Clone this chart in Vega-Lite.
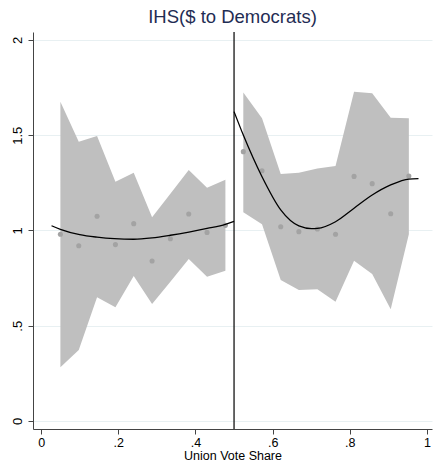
{
  "$schema": "https://vega.github.io/schema/vega-lite/v6.json",
  "width": 399,
  "height": 397,
  "autosize": "none",
  "padding": {"left": 33, "top": 32, "right": 4, "bottom": 34},
  "background": "white",
  "config": {"view": {"stroke": null}, "font": "Liberation Sans"},
  "title": {"text": "IHS($ to Democrats)", "color": "#1f2d54", "fontSize": 18.5, "fontWeight": "normal", "anchor": "middle", "offset": 5, "font": "Liberation Sans"},
  "datasets": {
    "band": [
      {"x": 0.05, "lo": 0.282, "hi": 1.676, "side": "L"},
      {"x": 0.0976, "lo": 0.373, "hi": 1.466, "side": "L"},
      {"x": 0.145, "lo": 0.649, "hi": 1.496, "side": "L"},
      {"x": 0.1926, "lo": 0.597, "hi": 1.256, "side": "L"},
      {"x": 0.24, "lo": 0.761, "hi": 1.303, "side": "L"},
      {"x": 0.2876, "lo": 0.614, "hi": 1.069, "side": "L"},
      {"x": 0.335, "lo": 0.731, "hi": 1.193, "side": "L"},
      {"x": 0.3826, "lo": 0.85, "hi": 1.318, "side": "L"},
      {"x": 0.43, "lo": 0.757, "hi": 1.225, "side": "L"},
      {"x": 0.4776, "lo": 0.789, "hi": 1.267, "side": "L"},
      {"x": 0.524, "lo": 1.096, "hi": 1.725, "side": "R"},
      {"x": 0.5725, "lo": 1.033, "hi": 1.589, "side": "R"},
      {"x": 0.621, "lo": 0.74, "hi": 1.297, "side": "R"},
      {"x": 0.668, "lo": 0.688, "hi": 1.303, "side": "R"},
      {"x": 0.716, "lo": 0.691, "hi": 1.326, "side": "R"},
      {"x": 0.763, "lo": 0.626, "hi": 1.339, "side": "R"},
      {"x": 0.811, "lo": 0.841, "hi": 1.729, "side": "R"},
      {"x": 0.858, "lo": 0.772, "hi": 1.72, "side": "R"},
      {"x": 0.906, "lo": 0.586, "hi": 1.592, "side": "R"},
      {"x": 0.953, "lo": 0.98, "hi": 1.589, "side": "R"}
    ],
    "pts": [
      {"x": 0.05, "y": 0.98},
      {"x": 0.0976, "y": 0.92},
      {"x": 0.145, "y": 1.075},
      {"x": 0.1926, "y": 0.926},
      {"x": 0.24, "y": 1.036},
      {"x": 0.2876, "y": 0.84},
      {"x": 0.335, "y": 0.957},
      {"x": 0.3826, "y": 1.087},
      {"x": 0.43, "y": 0.99},
      {"x": 0.4776, "y": 1.027},
      {"x": 0.524, "y": 1.414},
      {"x": 0.5725, "y": 1.314},
      {"x": 0.621, "y": 1.02},
      {"x": 0.668, "y": 0.994},
      {"x": 0.716, "y": 1.008},
      {"x": 0.763, "y": 0.98},
      {"x": 0.811, "y": 1.284},
      {"x": 0.858, "y": 1.246},
      {"x": 0.906, "y": 1.088},
      {"x": 0.953, "y": 1.286}
    ],
    "fit": [
      {"x": 0.027, "y": 1.025, "side": "L"},
      {"x": 0.05, "y": 1.006, "side": "L"},
      {"x": 0.1, "y": 0.978, "side": "L"},
      {"x": 0.145, "y": 0.965, "side": "L"},
      {"x": 0.19, "y": 0.957, "side": "L"},
      {"x": 0.24, "y": 0.954, "side": "L"},
      {"x": 0.2876, "y": 0.961, "side": "L"},
      {"x": 0.335, "y": 0.975, "side": "L"},
      {"x": 0.383, "y": 0.992, "side": "L"},
      {"x": 0.43, "y": 1.011, "side": "L"},
      {"x": 0.4776, "y": 1.032, "side": "L"},
      {"x": 0.5, "y": 1.048, "side": "L"},
      {"x": 0.5, "y": 1.624, "side": "R"},
      {"x": 0.524, "y": 1.501, "side": "R"},
      {"x": 0.5725, "y": 1.282, "side": "R"},
      {"x": 0.621, "y": 1.108, "side": "R"},
      {"x": 0.668, "y": 1.024, "side": "R"},
      {"x": 0.701, "y": 1.01, "side": "R"},
      {"x": 0.716, "y": 1.011, "side": "R"},
      {"x": 0.763, "y": 1.046, "side": "R"},
      {"x": 0.811, "y": 1.117, "side": "R"},
      {"x": 0.858, "y": 1.186, "side": "R"},
      {"x": 0.906, "y": 1.239, "side": "R"},
      {"x": 0.953, "y": 1.27, "side": "R"},
      {"x": 0.978, "y": 1.272, "side": "R"}
    ],
    "cut": [{"x": 0.5}]
  },
  "layer": [
    {
      "data": {"name": "band"},
      "mark": {"type": "area", "color": "#bfbfbf", "opacity": 1},
      "encoding": {
        "x": {"field": "x", "type": "quantitative",
          "scale": {"domain": [-0.021, 1.013], "nice": false, "zero": false},
          "axis": {"values": [0, 0.2, 0.4, 0.6, 0.8, 1], "title": "Union Vote Share",
            "labelExpr": "replace(format(datum.value, '~g'), '0.', '.')",
            "grid": false, "domainColor": "#444444", "tickColor": "#444444", "tickSize": 5,
            "labelFontSize": 12.5, "labelColor": "#000000", "labelPadding": 2,
            "titleFontSize": 12.5, "titleFontWeight": "normal", "titleColor": "#000000", "titlePadding": 1}},
        "y": {"field": "hi", "type": "quantitative",
          "scale": {"domain": [-0.042, 2.042], "nice": false, "zero": false},
          "axis": {"values": [0, 0.5, 1, 1.5, 2], "title": null,
            "labelExpr": "replace(format(datum.value, '~g'), '0.', '.')",
            "grid": true, "gridColor": "#e8f0f2", "gridWidth": 1,
            "domainColor": "#444444", "tickColor": "#444444", "tickSize": 5,
            "labelAngle": -90, "labelAlign": "center", "labelBaseline": "bottom",
            "labelFontSize": 13, "labelColor": "#000000", "labelPadding": 4}},
        "y2": {"field": "lo"},
        "detail": {"field": "side"}
      }
    },
    {
      "data": {"name": "pts"},
      "mark": {"type": "circle", "color": "#a3a3a3", "opacity": 1, "size": 26},
      "encoding": {
        "x": {"field": "x", "type": "quantitative"},
        "y": {"field": "y", "type": "quantitative"}
      }
    },
    {
      "data": {"name": "fit"},
      "mark": {"type": "line", "color": "#000000", "strokeWidth": 1.3, "interpolate": "monotone"},
      "encoding": {
        "x": {"field": "x", "type": "quantitative"},
        "y": {"field": "y", "type": "quantitative"},
        "detail": {"field": "side"}
      }
    },
    {
      "data": {"name": "cut"},
      "mark": {"type": "rule", "color": "#000000", "strokeWidth": 1.2},
      "encoding": {
        "x": {"field": "x", "type": "quantitative"}
      }
    }
  ]
}
